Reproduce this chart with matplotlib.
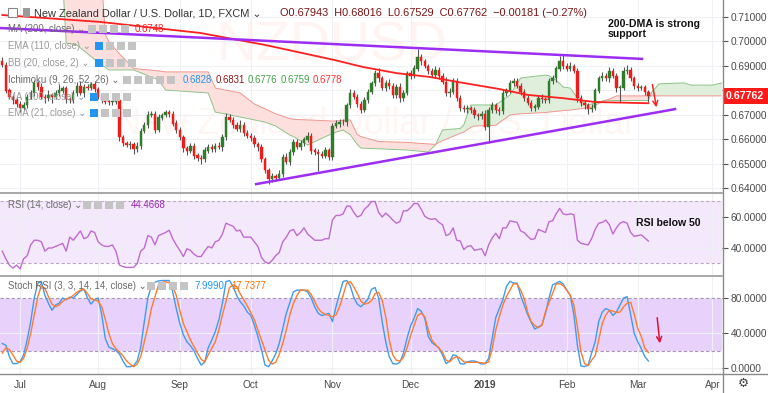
import matplotlib
matplotlib.use("Agg")
import matplotlib.pyplot as plt
from matplotlib.patches import Rectangle
from matplotlib.lines import Line2D
import numpy as np
import pandas as pd

plt.rcParams['font.family'] = ['Liberation Sans', 'DejaVu Sans']

# ---- data ----
start_date = '2018-06-25'
first_open = 0.6920
closes = [
    0.6905, 0.6800, 0.6775, 0.6760, 0.6745, 0.6730, 0.6740, 0.6775, 0.6790, 0.6830,
    0.6815, 0.6775, 0.6770, 0.6780, 0.6775, 0.6790, 0.6800, 0.6808, 0.6765, 0.6760,
    0.6790, 0.6820, 0.6790, 0.6815, 0.6812, 0.6825, 0.6805, 0.6775, 0.6760, 0.6755,
    0.6752, 0.6755, 0.6760, 0.6610, 0.6585, 0.6578, 0.6580, 0.6560, 0.6575, 0.6635,
    0.6660, 0.6700, 0.6705, 0.6640, 0.6690, 0.6700, 0.6710, 0.6705, 0.6665, 0.6640,
    0.6610, 0.6565, 0.6555, 0.6575, 0.6535, 0.6525, 0.6520, 0.6555, 0.6570, 0.6560,
    0.6575, 0.6570, 0.6610, 0.6690, 0.6680, 0.6660, 0.6645, 0.6660, 0.6625, 0.6615,
    0.6605, 0.6580, 0.6570, 0.6520, 0.6475, 0.6440, 0.6450, 0.6445, 0.6460, 0.6530,
    0.6510, 0.6550, 0.6590, 0.6570, 0.6585, 0.6600, 0.6615, 0.6555, 0.6550, 0.6540,
    0.6535, 0.6555, 0.6530, 0.6655, 0.6665, 0.6672, 0.6670, 0.6740, 0.6790, 0.6775,
    0.6745, 0.6722, 0.6760, 0.6795, 0.6830, 0.6870, 0.6850, 0.6810, 0.6830, 0.6820,
    0.6780, 0.6815, 0.6770, 0.6790, 0.6870, 0.6860, 0.6890, 0.6935, 0.6920, 0.6900,
    0.6880, 0.6865, 0.6885, 0.6860, 0.6835, 0.6790, 0.6795, 0.6840, 0.6770, 0.6730,
    0.6725, 0.6728, 0.6720, 0.6700, 0.6695, 0.6705, 0.6650, 0.6720, 0.6740, 0.6720,
    0.6715, 0.6790, 0.6800, 0.6830, 0.6840, 0.6820, 0.6795, 0.6770, 0.6750, 0.6730,
    0.6735, 0.6770, 0.6765, 0.6760, 0.6840, 0.6850, 0.6890, 0.6920, 0.6900, 0.6890,
    0.6900, 0.6880, 0.6770, 0.6750, 0.6740, 0.6725, 0.6730, 0.6800, 0.6850, 0.6860,
    0.6850, 0.6880, 0.6860, 0.6810, 0.6812, 0.6880, 0.6885, 0.6850, 0.6820, 0.6810,
    0.6812, 0.6795, 0.67762,
]
# wick lengths in pips above / below the candle body
up_wick = [
    15, 10, 12, 8, 10, 12, 15, 10, 12, 14,
    10, 15, 12, 20, 10, 12, 25, 10, 12, 10,
    12, 15, 18, 10, 12, 10, 12, 8, 10, 10,
    8, 10, 10, 10, 8, 10, 12, 10, 15, 10,
    12, 15, 10, 12, 15, 10, 10, 12, 10, 15,
    12, 10, 10, 12, 10, 10, 12, 15, 10, 12,
    10, 15, 12, 20, 15, 10, 12, 18, 10, 12,
    10, 12, 10, 10, 8, 10, 12, 10, 15, 12,
    15, 10, 12, 10, 15, 12, 14, 10, 12, 10,
    12, 15, 10, 12, 15, 10, 12, 10, 15, 12,
    10, 12, 15, 12, 10, 15, 20, 10, 12, 15,
    12, 10, 15, 12, 10, 15, 15, 35, 12, 10,
    10, 12, 15, 10, 12, 20, 15, 12, 10, 12,
    10, 12, 10, 12, 10, 12, 15, 12, 15, 10,
    12, 15, 10, 12, 10, 12, 10, 12, 10, 12,
    10, 12, 15, 10, 12, 15, 12, 20, 25, 12,
    15, 10, 12, 10, 12, 10, 15, 12, 10, 15,
    12, 15, 10, 12, 10, 15, 20, 12, 10, 12,
    10, 12, 7,
]
dn_wick = [
    10, 12, 10, 15, 12, 18, 10, 12, 10, 12,
    15, 10, 20, 12, 25, 10, 12, 10, 15, 12,
    10, 12, 10, 15, 12, 10, 12, 10, 12, 10,
    10, 12, 10, 15, 12, 10, 15, 20, 10, 12,
    10, 12, 10, 15, 10, 12, 10, 12, 10, 15,
    12, 15, 20, 10, 15, 12, 18, 10, 12, 10,
    12, 10, 15, 12, 10, 12, 10, 15, 12, 10,
    12, 10, 15, 12, 10, 20, 12, 15, 10, 12,
    10, 15, 12, 10, 12, 10, 12, 15, 12, 70,
    12, 10, 15, 12, 10, 12, 10, 15, 12, 10,
    12, 15, 10, 12, 10, 12, 15, 10, 12, 15,
    12, 10, 15, 12, 10, 12, 10, 12, 15, 10,
    12, 10, 15, 12, 10, 12, 15, 10, 12, 15,
    12, 15, 10, 12, 15, 10, 12, 65, 10, 12,
    15, 10, 12, 10, 12, 10, 15, 12, 10, 15,
    12, 10, 15, 12, 10, 12, 15, 10, 12, 10,
    12, 10, 15, 12, 15, 20, 12, 10, 12, 10,
    12, 15, 10, 15, 55, 10, 12, 10, 15, 12,
    10, 15, 23,
]

# 200-day MA (vertices: bar index, value)
ma200_idx = [0, 27.5, 55.7, 74, 93.7, 101.6, 111, 120.5, 129.8, 140, 148, 157.7, 167, 182]
ma200_val = [0.7108, 0.7080, 0.7035, 0.6986, 0.6924, 0.6896, 0.6871, 0.6855, 0.6831,
             0.6806, 0.6782, 0.6769, 0.6753, 0.6748]

# Ichimoku cloud edges (bar index, leading span A, leading span B)
cloud_idx = [-1, 17, 18, 21, 27, 28, 29, 30, 33, 37, 44, 46, 58, 60, 67, 71, 74, 77, 81, 82,
             86, 89, 92, 93, 96, 98, 99, 100, 101, 106, 114, 120, 122, 124, 129, 130, 132, 133,
             139, 143, 146, 153, 154, 156, 158, 160, 162, 165, 166, 167, 170, 171, 173, 182,
             183, 185, 192, 194, 200, 204]
span_a = [0.7250, 0.7250, 0.6994, 0.6986, 0.6915, 0.6905, 0.6895, 0.6884, 0.6884, 0.6884,
          0.6843, 0.6802, 0.6790, 0.6712, 0.6692, 0.6680, 0.6671, 0.6655, 0.6618, 0.6612,
          0.6578, 0.6598, 0.6618, 0.6625, 0.6639, 0.6620, 0.6600, 0.6580, 0.6565, 0.6562,
          0.6557, 0.6549, 0.6578, 0.6639, 0.6645, 0.6660, 0.6741, 0.6741, 0.6741, 0.6782,
          0.6851, 0.6863, 0.6860, 0.6843, 0.6814, 0.6810, 0.6769, 0.6741, 0.6745, 0.6749,
          0.6761, 0.6760, 0.6759, 0.6759, 0.6794, 0.6827, 0.6831, 0.6822, 0.6822, 0.6835]
span_b = [0.7250, 0.7250, 0.7250, 0.7250, 0.7250, 0.7250, 0.7030, 0.7000, 0.6950, 0.6890,
          0.6880, 0.6876, 0.6876, 0.6810, 0.6790, 0.6745, 0.6725, 0.6705, 0.6685, 0.6682,
          0.6680, 0.6678, 0.6676, 0.6675, 0.6678, 0.6680, 0.6650, 0.6620, 0.6612, 0.6592,
          0.6588, 0.6582, 0.6580, 0.6595, 0.6625, 0.6630, 0.6650, 0.6655, 0.6658, 0.6700,
          0.6705, 0.6710, 0.6712, 0.6715, 0.6718, 0.6720, 0.6724, 0.6730, 0.6733, 0.6740,
          0.6760, 0.6765, 0.6778, 0.6778, 0.6778, 0.6778, 0.6778, 0.6778, 0.6778, 0.6778]

# hand-drawn trend lines (bar index, price)
upper_tl_idx = [-0.65, 180.2]
upper_tl_val = [0.7055, 0.6929]
lower_tl_idx = [71.5, 189.5]
lower_tl_val = [0.6418, 0.6724]

rsi = [
    38, 33, 29, 27, 29, 26.5, 33, 35, 42, 45,
    45, 44, 38, 40, 40, 41, 42, 43, 38, 47,
    45, 48, 51, 46, 47, 51, 50, 44, 42, 41,
    41, 42, 38, 29, 28, 27.5, 27.5, 27.5, 30, 38,
    40, 48, 47, 42, 48, 49, 50, 51.5, 46, 42,
    38.5, 34.5, 39.5, 38.5, 36, 34.5, 34.5, 38, 41, 40,
    44, 45, 49, 56, 55, 54, 51, 51.5, 47, 47,
    47, 44, 41, 34, 31, 30, 32, 35, 37, 44,
    47, 51, 52, 48, 50, 53, 49, 47, 45, 45,
    45, 46, 46, 58, 61, 61, 62, 67, 67, 63,
    60, 61, 65, 67, 70, 70, 63, 60, 62.5, 60.5,
    58, 56, 57, 64, 64, 66, 68.7, 68.7, 65, 60.5,
    59, 58.5, 59, 56.5, 55, 48, 49, 53, 45, 44.5,
    39, 41, 41.5, 38.5, 39, 39.5, 35, 42, 46.5, 49.5,
    46, 53, 53, 57.5, 57, 56.5, 51, 50, 47.5, 45.5,
    46, 52, 51, 50, 57, 57.5, 62, 65.5, 62, 61.5,
    62, 61.5, 45, 43, 42.5, 42, 46, 52, 56, 56.5,
    58, 55, 49, 53, 56, 57, 56, 50, 47.5, 48,
    48.5, 46.5, 44.4668,
]
stoch_k = [
    28, 26, 13, 5, 5, 7, 15, 32, 53, 80,
    97, 99, 83, 74, 66, 72, 74, 80, 78, 81,
    80, 84, 88, 90, 80, 73, 78, 80, 61, 34,
    24, 22, 20, 16, 8, 1.5, 1.5, 2.7, 8, 24,
    53, 80, 94, 98, 99.5, 100, 100, 100, 87, 68,
    51, 38, 30, 25.5, 19.5, 11, 3.4, 6.5, 23, 32,
    41.5, 55, 74, 98.7, 100, 93, 83, 76, 71, 64,
    60, 49, 36, 21, 3.4, 1.5, 8, 16, 28, 45,
    62.5, 75, 87, 89, 89, 89, 87, 80, 70, 62.5,
    60, 61, 62.5, 53, 70, 85, 99, 100, 94, 81,
    73, 70, 74, 79, 90, 92, 80, 53, 30, 13,
    5, 4.5, 6.5, 17, 34, 48, 57, 68, 65, 57,
    36, 29, 26, 23, 15, 5, 8, 15, 14, 5,
    4.5, 7, 8, 8, 6.5, 4.5, 5, 11, 34, 57.5,
    68, 78, 93, 99, 97, 97, 83, 72, 61, 52,
    44.5, 47, 49, 62.5, 80, 95, 97, 99, 96, 89,
    83, 61, 26, 2.5, 1.5, 3.4, 17, 30, 53, 64,
    68, 66, 60, 64, 72, 80, 81.5, 61, 39.5, 30,
    22, 13, 7.999,
]
stoch_d = [
    17, 23, 21, 15, 8, 6.5, 11, 22.5, 39.6, 60.6,
    81.5, 94, 91, 81.5, 73, 70, 72, 76, 79, 80,
    83, 86.5, 89, 90, 85, 79, 78, 76.5, 70, 56,
    39.6, 28, 22, 18, 14, 8, 4.5, 1.5, 4.5, 13,
    30, 47, 68, 81.5, 95, 98, 98.7, 97, 93, 83,
    66, 51, 41.5, 32, 24.4, 17, 10, 7, 15, 22.5,
    30, 43.5, 60.6, 75.8, 92, 95, 93, 85, 78, 71,
    63.5, 55, 43.5, 32, 20.6, 9, 4.5, 6.5, 15.6, 28,
    43.5, 60.6, 73.8, 83, 89, 89, 89, 84, 76, 68,
    63.5, 61.5, 60, 58.7, 60.6, 70, 83, 96.8, 98.7, 93,
    85, 76.5, 73, 74, 77, 85, 86.5, 77.7, 58.7, 32,
    15, 8.8, 8, 12, 23, 36.6, 49, 60, 62.5, 58.7,
    43.5, 32, 27, 22.5, 18, 9, 7, 11, 13, 11,
    7, 6.5, 6.5, 6.5, 6.5, 6, 5.3, 7, 22.5, 43.5,
    58.7, 72, 81.5, 89, 96.5, 96, 89, 79.6, 63.5, 53,
    48.5, 46, 49, 64, 75, 85, 96, 96.5, 94, 89,
    83, 72, 47, 18.7, 5.3, 2.7, 9, 14, 32, 51,
    60.6, 66, 65, 63.5, 64, 70, 74, 75, 61.5, 45.4,
    36, 22.5, 17.7377,
]

month_labels = ['Jul', 'Aug', 'Sep', 'Oct', 'Nov', 'Dec', '2019', 'Feb', 'Mar', 'Apr']

# ---- build OHLC ----
closes = np.array(closes)
opens = np.concatenate([[first_open], closes[:-1]])
highs = np.maximum(opens, closes) + np.array(up_wick) / 10000
lows = np.minimum(opens, closes) - np.array(dn_wick) / 10000
n = len(closes)
idx = np.arange(n)
dates = pd.bdate_range(start_date, periods=215)

W, H = 768, 393
fig = plt.figure(figsize=(W / 100, H / 100), dpi=100)
fig.patch.set_facecolor('white')


def fx(x):
    return x / W


def fy(y):
    return 1 - y / H


def price_at(y):
    return 0.67 + (115 - y) / 2450


XL = (-0.648, 202.73)
ax_p = fig.add_axes([0, fy(192), fx(722), 192 / H])
ax_r = fig.add_axes([0, fy(275), fx(722), 82 / H])
ax_s = fig.add_axes([0, fy(373), fx(722), 96 / H])

# month ticks
tick_pos, tick_lab = [], []
for m, lab in zip(pd.period_range('2018-07', periods=10, freq='M'), month_labels):
    first = dates[(dates.year == m.year) & (dates.month == m.month)][0]
    tick_pos.append(dates.get_loc(first))
    tick_lab.append(lab)

grid_c = '#eef0f4'
label_c = '#4a4a4a'
for ax in (ax_p, ax_r, ax_s):
    ax.set_xlim(*XL)
    ax.set_facecolor('white')
    for s in ax.spines.values():
        s.set_visible(False)
    ax.yaxis.tick_right()
    ax.tick_params(axis='y', length=4, width=0.8, color='#555555', labelsize=7.3,
                   labelcolor=label_c, pad=2)
    ax.set_xticks(tick_pos)
    ax.set_xticklabels([])
    ax.tick_params(axis='x', length=0)
    ax.grid(True, color=grid_c, linewidth=0.8)
    ax.set_axisbelow(True)

# ---- price panel ----
ax_p.set_ylim(price_at(192), price_at(0))
ax_p.set_yticks(np.arange(0.64, 0.7101, 0.01))
# the 0.68000 label sits under the last-price tag in the reference
ax_p.yaxis.set_major_formatter(
    plt.FuncFormatter(lambda v, p: '' if abs(v - 0.68) < 1e-6 else f'{v:.5f}'))

# watermark
ax_p.text(0.46, 0.76, 'NZDUSD', transform=ax_p.transAxes, fontsize=40, color='#fff4f1',
          ha='center', va='center', zorder=0)
ax_p.text(0.52, 0.35, 'New Zealand Dollar / U.S. Dollar', transform=ax_p.transAxes,
          fontsize=26, color='#fff6f4', ha='center', va='center', zorder=0)

ca = np.array(cloud_idx, float)
sa = np.array(span_a)
sb = np.array(span_b)
ax_p.fill_between(ca, sa, sb, where=sa >= sb, interpolate=True, color='#dfefdb', lw=0, zorder=1)
ax_p.fill_between(ca, sa, sb, where=sa < sb, interpolate=True, color='#fde0dd', lw=0, zorder=1)
ax_p.plot(ca, sa, color='#8cc486', lw=0.7, zorder=2)
ax_p.plot(ca, sb, color='#f29590', lw=0.7, zorder=2)

up = closes >= opens
col = np.where(up, '#2f7d2a', '#f21b1b')
ax_p.vlines(idx, lows, highs, color='#555555', lw=0.8, zorder=3)
ax_p.bar(idx, np.abs(closes - opens) + 0.00008, bottom=np.minimum(opens, closes) - 0.00004,
         width=0.66, color=col, edgecolor=col, lw=0.3, zorder=4)

ax_p.plot(ma200_idx, ma200_val, color='#ff1f1f', lw=1.3, zorder=5)
ax_p.plot(upper_tl_idx, upper_tl_val, color='#9d2cf5', lw=1.8, zorder=6)
ax_p.plot(lower_tl_idx, lower_tl_val, color='#9d2cf5', lw=1.8, zorder=6)

ax_p.annotate('', xy=(184.4, 0.6720), xytext=(183.0, 0.6835),
              arrowprops=dict(arrowstyle='->', color='#ff2020', lw=1.1, mutation_scale=9), zorder=7)
ax_p.text(170.6, price_at(19), '200-DMA is strong\nsupport', fontsize=7.6, fontweight='bold',
          color='#111111', va='top', ha='left', linespacing=1.05, zorder=8)

# ---- RSI panel ----
ax_r.set_ylim(22.58, 75.48)
ax_r.set_yticks([40, 60])
ax_r.yaxis.set_major_formatter(plt.FuncFormatter(lambda v, p: f'{v:.4f}'))
ax_r.axhspan(30, 70, color='#f4e8fc', lw=0, zorder=0)
for lvl in (30, 70):
    ax_r.axhline(lvl, color='#b9a9c4', lw=0.8, ls=(0, (3, 2)), zorder=1)
ax_r.plot(idx, rsi, color='#c06ad0', lw=1.0, zorder=3)
ax_r.text(178.5, 56.2, 'RSI below 50', fontsize=7.6, fontweight='bold', color='#111111',
          va='center', ha='left')

# ---- Stoch RSI panel ----
ax_s.set_ylim(-5.7, 104)
ax_s.set_yticks([0, 40, 80])
ax_s.yaxis.set_major_formatter(plt.FuncFormatter(lambda v, p: f'{v:.4f}'))
ax_s.axhspan(20, 80, color='#e8d2fb', lw=0, zorder=0)
for lvl in (20, 80):
    ax_s.axhline(lvl, color='#a894b4', lw=0.8, ls=(0, (3, 2)), zorder=1)
ax_s.plot(idx, stoch_k, color='#3d9cf0', lw=1.0, zorder=3)
ax_s.plot(idx, stoch_d, color='#ff7b2e', lw=1.0, zorder=3)
ax_s.annotate('', xy=(185.3, 25.1), xytext=(184.4, 60.6),
              arrowprops=dict(arrowstyle='->', color='#e0103a', lw=1.1, mutation_scale=9), zorder=7)

ax_s.set_xticklabels(tick_lab)
ax_s.tick_params(axis='x', labelsize=7.3, labelcolor=label_c, pad=5)
for t in ax_s.get_xticklabels():
    if t.get_text() == '2019':
        t.set_fontweight('bold')

# ---- frame lines ----
sep_c = '#9a9a9a'
for y in (192.5, 276):
    fig.add_artist(Line2D([0, fx(722)], [fy(y), fy(y)], color=sep_c, lw=1.2))
fig.add_artist(Line2D([0, 1], [fy(373.5), fy(373.5)], color='#8a8a8a', lw=1.0))
fig.add_artist(Line2D([fx(722.5), fx(722.5)], [fy(0), fy(393)], color='#8a8a8a', lw=1.0))

# last price tag
fig.add_artist(Rectangle((fx(722.5), fy(104)), fx(45.5), 16 / H, color='#ff1a1a', lw=0))
fig.text(fx(745), fy(96), '0.67762', color='white', fontsize=7.6, fontweight='bold',
         ha='center', va='center')
fig.text(fx(743), fy(383), '\u2699', family='DejaVu Sans', fontsize=9, color='#444444',
         ha='center', va='center')


# ---- header / legends ----
def icons(x0, y, count, first_blue=False):
    for k in range(count):
        c = '#2196f3' if (first_blue and k == 0) else '#c4c4c4'
        fig.add_artist(Rectangle((fx(x0 + k * 11), fy(y + 4)), fx(8), 8 / H, color=c, lw=0))


fig.add_artist(Rectangle((fx(8), fy(17)), fx(9), 9 / H, facecolor='white', edgecolor='#888888', lw=0.8))
fig.add_artist(Rectangle((fx(23), fy(17)), fx(7), 9 / H, color='#999999', lw=0))
fig.text(fx(34), fy(13), 'New Zealand Dollar / U.S. Dollar, 1D, FXCM \u2304', fontsize=7.9,
         color='#333333', va='center', ha='left')
fig.text(fx(280), fy(13), 'O0.67943  H0.68016  L0.67529  C0.67762  \u22120.00181 (\u22120.27%)',
         fontsize=7.9, color='#7a1414', va='center', ha='left')

gray_hidden = '#9a9a9a'
gray_shown = '#6a6a6a'
fig.text(fx(8), fy(29), 'MA (200, close) \u2304', fontsize=6.9, color=gray_shown, va='center')
icons(88, 29, 4)
fig.text(fx(135), fy(29), '0.6748', fontsize=6.9, color='#ff1f1f', va='center')
fig.text(fx(8), fy(46), 'EMA (110, close) \u2304', fontsize=6.9, color=gray_hidden, va='center')
icons(95, 46, 4, True)
fig.text(fx(8), fy(63), 'BB (20, close, 2) \u2304', fontsize=6.9, color=gray_hidden, va='center')
icons(95, 63, 4, True)
fig.text(fx(8), fy(80), 'Ichimoku (9, 26, 52, 26) \u2304', fontsize=6.9, color=gray_shown, va='center')
icons(123, 80, 5)
ichi_vals = [('0.6828', '#2196f3'), ('0.6831', '#8b1a1a'), ('0.6776', '#43a047'),
             ('0.6759', '#43a047'), ('0.6778', '#ff3030')]
xx = 183
for v, c in ichi_vals:
    fig.text(fx(xx), fy(80), v, fontsize=6.9, color=c, va='center')
    xx += 32.5
fig.text(fx(8), fy(97), 'MA (100, close) \u2304', fontsize=6.9, color=gray_hidden, va='center')
icons(90, 97, 4, True)
fig.text(fx(8), fy(113), 'EMA (21, close) \u2304', fontsize=6.9, color=gray_hidden, va='center')
icons(90, 113, 4, True)

fig.text(fx(8), fy(205), 'RSI (14, close) \u2304', fontsize=6.9, color=gray_shown, va='center')
icons(83, 205, 4)
fig.text(fx(131), fy(205), '44.4668', fontsize=6.9, color='#9c27b0', va='center')
fig.text(fx(8), fy(286), 'Stoch RSI (3, 3, 14, 14, close) \u2304', fontsize=6.9, color=gray_shown,
         va='center')
icons(147, 286, 4)
fig.text(fx(194), fy(286), '7.9990', fontsize=6.9, color='#2196f3', va='center')
fig.text(fx(231), fy(286), '17.7377', fontsize=6.9, color='#ff6d00', va='center')

fig.savefig('out.png', dpi=100, facecolor='white')
